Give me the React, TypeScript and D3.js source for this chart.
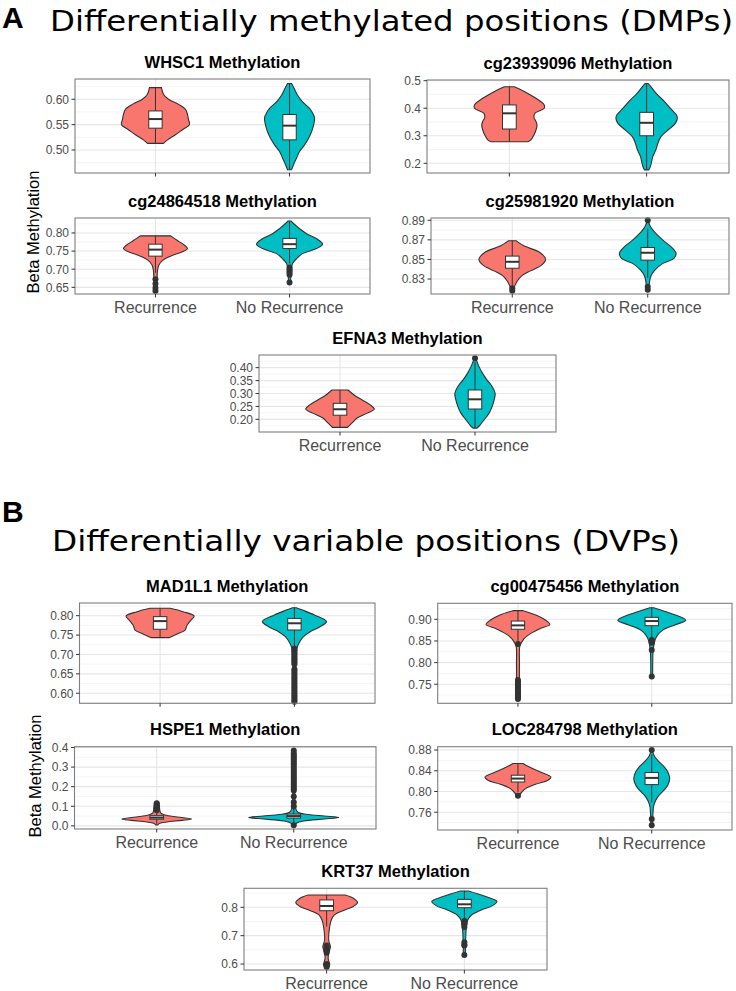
import React from "react";
import * as d3 from "d3";

type Dens = [number, number][];
type Group = { dens: Dens; box: number[]; out: number[] };

const CATEGORIES = ["Recurrence", "No Recurrence"];
const FILLS = ["#F8766D", "#00BFC4"];

// box = [whiskerLow, q1, median, q3, whiskerHigh]; dens = [value, relative half-width]
const WHSC1_REC_DENS: Dens = [[0.513, 8], [0.52, 12], [0.53, 20], [0.54, 27], [0.55, 34], [0.56, 33], [0.57, 32], [0.58, 30], [0.59, 23], [0.6, 13], [0.61, 8], [0.623, 6]];
const WHSC1_REC_BOX = [0.513, 0.543, 0.561, 0.577, 0.623];
const WHSC1_NOREC_DENS: Dens = [[0.461, 2], [0.471, 4], [0.484, 7], [0.497, 10], [0.51, 15], [0.523, 19], [0.536, 22], [0.549, 24], [0.563, 25], [0.569, 24], [0.582, 20], [0.595, 13], [0.608, 8], [0.62, 5], [0.631, 2]];
const WHSC1_NOREC_BOX = [0.461, 0.52, 0.548, 0.57, 0.631];
const WHSC1_TICKS = [0.5, 0.55, 0.6];
const WHSC1_LIMITS = [0.4546, 0.64];

const CG239_REC_DENS: Dens = [[0.278, 18], [0.285, 21], [0.303, 24], [0.321, 26], [0.339, 27], [0.352, 26], [0.367, 24], [0.382, 25], [0.4, 34], [0.412, 34], [0.436, 26], [0.46, 15], [0.478, 5]];
const CG239_REC_BOX = [0.278, 0.3245, 0.3815, 0.412, 0.478];
const CG239_NOREC_DENS: Dens = [[0.176, 2], [0.182, 3], [0.2, 4.5], [0.224, 6], [0.249, 9], [0.273, 11], [0.297, 14], [0.321, 21], [0.345, 28], [0.364, 30], [0.376, 29], [0.4, 23], [0.426, 17], [0.451, 10], [0.474, 5], [0.49, 1.5]];
const CG239_NOREC_BOX = [0.176, 0.3, 0.347, 0.385, 0.49];
const CG239_TICKS = [0.2, 0.3, 0.4, 0.5];
const CG239_LIMITS = [0.1647, 0.5025];

const CG248_REC_DENS: Dens = [[0.638, 1], [0.66, 1.5], [0.68, 1.7], [0.695, 2], [0.711, 3.3], [0.725, 7.5], [0.736, 15], [0.748, 27], [0.757, 32], [0.766, 29], [0.779, 22], [0.792, 15]];
const CG248_REC_BOX = [0.69, 0.736, 0.754, 0.769, 0.792];
const CG248_REC_OUT = [0.672, 0.66, 0.648, 0.64];
const CG248_NOREC_DENS: Dens = [[0.663, 1], [0.69, 1.5], [0.705, 2], [0.716, 3], [0.729, 7], [0.743, 13], [0.757, 27], [0.769, 33], [0.784, 27], [0.798, 17], [0.812, 10], [0.826, 4], [0.833, 1.5]];
const CG248_NOREC_BOX = [0.716, 0.757, 0.769, 0.785, 0.833];
const CG248_NOREC_OUT = [0.705, 0.7, 0.695, 0.69, 0.685, 0.663];
const CG248_TICKS = [0.65, 0.7, 0.75, 0.8];
const CG248_LIMITS = [0.6316, 0.8412];

const CG259_REC_DENS: Dens = [[0.818, 1], [0.823, 2.5], [0.828, 5], [0.833, 9], [0.8383, 18], [0.8442, 29], [0.85, 33], [0.8573, 27], [0.8636, 12], [0.869, 4]];
const CG259_REC_BOX = [0.823, 0.841, 0.8476, 0.8534, 0.869];
const CG259_REC_OUT = [0.8205, 0.818];
const CG259_NOREC_DENS: Dens = [[0.819, 1], [0.8326, 3], [0.839, 7], [0.846, 15], [0.851, 26], [0.8562, 28], [0.863, 23], [0.8697, 15], [0.8765, 8], [0.8815, 4], [0.8849, 2], [0.89, 0.5]];
const CG259_NOREC_BOX = [0.831, 0.8493, 0.8568, 0.8622, 0.8815];
const CG259_NOREC_OUT = [0.89, 0.822, 0.819];
const CG259_TICKS = [0.83, 0.85, 0.87, 0.89];
const CG259_LIMITS = [0.8147, 0.8923];

const EFNA3_REC_DENS: Dens = [[0.169, 7.5], [0.186, 12], [0.205, 17], [0.224, 27], [0.24, 34], [0.256, 30], [0.275, 22], [0.294, 14], [0.3136, 8]];
const EFNA3_REC_BOX = [0.169, 0.216, 0.239, 0.262, 0.3136];
const EFNA3_NOREC_DENS: Dens = [[0.166, 2], [0.178, 5], [0.198, 9], [0.224, 14], [0.249, 17], [0.275, 19], [0.301, 20], [0.327, 17], [0.352, 12], [0.378, 7.5], [0.404, 4], [0.423, 2], [0.436, 0.5]];
const EFNA3_NOREC_BOX = [0.166, 0.24, 0.2775, 0.3136, 0.423];
const EFNA3_NOREC_OUT = [0.436];
const EFNA3_TICKS = [0.2, 0.25, 0.3, 0.35, 0.4];
const EFNA3_LIMITS = [0.151, 0.449];

const MAD1L1_REC_DENS: Dens = [[0.7433, 9], [0.753, 17], [0.763, 25], [0.776, 27], [0.789, 31], [0.799, 34], [0.8103, 23], [0.819, 10]];
const MAD1L1_REC_BOX = [0.7433, 0.765, 0.786, 0.7975, 0.819];
const MAD1L1_NOREC_DENS: Dens = [[0.578, 1], [0.62, 1.2], [0.66, 1.2], [0.7, 1.5], [0.716, 2.5], [0.729, 4.5], [0.746, 9], [0.759, 16], [0.772, 26], [0.785, 32], [0.802, 20], [0.815, 7.5], [0.8206, 2]];
const MAD1L1_NOREC_BOX = [0.72, 0.7631, 0.7804, 0.793, 0.8206];
const MAD1L1_NOREC_OUT = [0.715, 0.711, 0.707, 0.703, 0.699, 0.695, 0.691, 0.687, 0.683, 0.679, 0.675, 0.662, 0.657, 0.652, 0.647, 0.642, 0.637, 0.632, 0.627, 0.622, 0.617, 0.612, 0.607, 0.602, 0.597, 0.592, 0.587, 0.582, 0.578];
const MAD1L1_TICKS = [0.6, 0.65, 0.7, 0.75, 0.8];
const MAD1L1_LIMITS = [0.574, 0.8327];

const CG004_REC_DENS: Dens = [[0.714, 1.5], [0.73, 2], [0.76, 1.5], [0.8, 1.5], [0.836, 1.7], [0.844, 3], [0.855, 6], [0.867, 12.5], [0.879, 22.5], [0.888, 32], [0.8984, 27.5], [0.91, 18], [0.92, 5]];
const CG004_REC_BOX = [0.85, 0.877, 0.886, 0.896, 0.92];
const CG004_REC_OUT = [0.843, 0.76, 0.756, 0.752, 0.748, 0.744, 0.74, 0.736, 0.732, 0.728, 0.724, 0.72, 0.716];
const CG004_NOREC_DENS: Dens = [[0.767, 1], [0.8, 1], [0.83, 1.5], [0.852, 3.3], [0.864, 6], [0.875, 11], [0.887, 23], [0.898, 34], [0.911, 22.5], [0.9215, 9], [0.9268, 2]];
const CG004_NOREC_BOX = [0.857, 0.8853, 0.896, 0.9046, 0.9268];
const CG004_NOREC_OUT = [0.852, 0.849, 0.846, 0.829, 0.768];
const CG004_TICKS = [0.75, 0.8, 0.85, 0.9];
const CG004_LIMITS = [0.706, 0.937];

const HSPE1_REC_DENS: Dens = [[0.005, 1], [0.013, 3], [0.02, 10], [0.028, 25], [0.035, 34], [0.045, 20], [0.055, 8], [0.065, 4], [0.08, 3], [0.1, 2.5], [0.116, 1]];
const HSPE1_REC_BOX = [0.01, 0.034, 0.042, 0.052, 0.078];
const HSPE1_REC_OUT = [0.08, 0.085, 0.09, 0.095, 0.1, 0.105, 0.11, 0.115];
const HSPE1_NOREC_DENS: Dens = [[0.003, 1], [0.015, 3], [0.025, 10], [0.035, 30], [0.043, 44], [0.05, 30], [0.058, 14], [0.065, 6], [0.075, 3], [0.1, 1.5], [0.2, 1], [0.385, 0.5]];
const HSPE1_NOREC_BOX = [0.012, 0.04, 0.05, 0.06, 0.088];
const HSPE1_NOREC_OUT = [0.003, 0.1, 0.12, 0.15, 0.18, 0.19, 0.2, 0.21, 0.22, 0.23, 0.24, 0.25, 0.26, 0.27, 0.28, 0.29, 0.3, 0.31, 0.32, 0.33, 0.34, 0.35, 0.36, 0.37, 0.385];
const HSPE1_TICKS = [0, 0.1, 0.2, 0.3, 0.4];
const HSPE1_LIMITS = [-0.016, 0.404];

const LOC_REC_DENS: Dens = [[0.792, 1], [0.799, 4], [0.806, 8], [0.814, 17.5], [0.8216, 30], [0.828, 33], [0.838, 22], [0.8475, 11], [0.854, 5]];
const LOC_REC_BOX = [0.799, 0.8183, 0.8249, 0.8314, 0.854];
const LOC_REC_OUT = [0.792];
const LOC_NOREC_DENS: Dens = [[0.733, 1], [0.75, 1], [0.765, 1.5], [0.77, 1.7], [0.783, 4], [0.792, 7], [0.802, 12], [0.812, 16], [0.8249, 18], [0.838, 16], [0.8475, 12.5], [0.857, 7.5], [0.867, 3], [0.8735, 1.5], [0.88, 0.5]];
const LOC_NOREC_BOX = [0.779, 0.8133, 0.8262, 0.8366, 0.8716];
const LOC_NOREC_OUT = [0.88, 0.747, 0.735];
const LOC_TICKS = [0.76, 0.8, 0.84, 0.88];
const LOC_LIMITS = [0.7257, 0.8864];

const KRT37_REC_DENS: Dens = [[0.59, 2], [0.597, 3], [0.62, 1.5], [0.638, 2], [0.661, 3.7], [0.685, 2], [0.732, 3], [0.755, 4.5], [0.773, 7.5], [0.79, 17], [0.803, 26], [0.817, 30], [0.832, 26], [0.8434, 18]];
const KRT37_REC_BOX = [0.732, 0.788, 0.8046, 0.826, 0.8434];
const KRT37_REC_OUT = [0.665, 0.66, 0.655, 0.65, 0.645, 0.64, 0.6, 0.595, 0.59];
const KRT37_NOREC_DENS: Dens = [[0.628, 1], [0.68, 1.2], [0.732, 2], [0.755, 3.3], [0.773, 7], [0.79, 16], [0.806, 27.5], [0.821, 31.7], [0.8388, 20], [0.8575, 4]];
const KRT37_NOREC_BOX = [0.755, 0.7986, 0.8106, 0.828, 0.8575];
const KRT37_NOREC_OUT = [0.752, 0.745, 0.74, 0.731, 0.677, 0.668, 0.665, 0.632];
const KRT37_TICKS = [0.6, 0.7, 0.8];
const KRT37_LIMITS = [0.579, 0.867];

type Panel = {
  title: string;
  groups: Group[];
  ticks: number[];
  limits: number[];
  dec: number;
  box: [number, number, number, number]; // x0, x1, y0, y1 (layout)
  xLabels: boolean;
};

const PANELS: Panel[] = [
  { title: "WHSC1 Methylation", groups: [{ dens: WHSC1_REC_DENS, box: WHSC1_REC_BOX, out: [] }, { dens: WHSC1_NOREC_DENS, box: WHSC1_NOREC_BOX, out: [] }], ticks: WHSC1_TICKS, limits: WHSC1_LIMITS, dec: 2, box: [75, 370, 79, 173], xLabels: false },
  { title: "cg23939096 Methylation", groups: [{ dens: CG239_REC_DENS, box: CG239_REC_BOX, out: [] }, { dens: CG239_NOREC_DENS, box: CG239_NOREC_BOX, out: [] }], ticks: CG239_TICKS, limits: CG239_LIMITS, dec: 1, box: [427, 729, 80, 173], xLabels: false },
  { title: "cg24864518 Methylation", groups: [{ dens: CG248_REC_DENS, box: CG248_REC_BOX, out: CG248_REC_OUT }, { dens: CG248_NOREC_DENS, box: CG248_NOREC_BOX, out: CG248_NOREC_OUT }], ticks: CG248_TICKS, limits: CG248_LIMITS, dec: 2, box: [75, 370, 218, 294], xLabels: true },
  { title: "cg25981920 Methylation", groups: [{ dens: CG259_REC_DENS, box: CG259_REC_BOX, out: CG259_REC_OUT }, { dens: CG259_NOREC_DENS, box: CG259_NOREC_BOX, out: CG259_NOREC_OUT }], ticks: CG259_TICKS, limits: CG259_LIMITS, dec: 2, box: [431, 729, 218, 294], xLabels: true },
  { title: "EFNA3 Methylation", groups: [{ dens: EFNA3_REC_DENS, box: EFNA3_REC_BOX, out: [] }, { dens: EFNA3_NOREC_DENS, box: EFNA3_NOREC_BOX, out: EFNA3_NOREC_OUT }], ticks: EFNA3_TICKS, limits: EFNA3_LIMITS, dec: 2, box: [259, 556, 355, 432], xLabels: true },
  { title: "MAD1L1 Methylation", groups: [{ dens: MAD1L1_REC_DENS, box: MAD1L1_REC_BOX, out: [] }, { dens: MAD1L1_NOREC_DENS, box: MAD1L1_NOREC_BOX, out: MAD1L1_NOREC_OUT }], ticks: MAD1L1_TICKS, limits: MAD1L1_LIMITS, dec: 2, box: [79.5, 375, 603, 703.3], xLabels: false },
  { title: "cg00475456 Methylation", groups: [{ dens: CG004_REC_DENS, box: CG004_REC_BOX, out: CG004_REC_OUT }, { dens: CG004_NOREC_DENS, box: CG004_NOREC_BOX, out: CG004_NOREC_OUT }], ticks: CG004_TICKS, limits: CG004_LIMITS, dec: 2, box: [437.7, 732, 603.3, 703.3], xLabels: false },
  { title: "HSPE1 Methylation", groups: [{ dens: HSPE1_REC_DENS, box: HSPE1_REC_BOX, out: HSPE1_REC_OUT }, { dens: HSPE1_NOREC_DENS, box: HSPE1_NOREC_BOX, out: HSPE1_NOREC_OUT }], ticks: HSPE1_TICKS, limits: HSPE1_LIMITS, dec: 1, box: [74.5, 376, 746.7, 829], xLabels: true },
  { title: "LOC284798 Methylation", groups: [{ dens: LOC_REC_DENS, box: LOC_REC_BOX, out: LOC_REC_OUT }, { dens: LOC_NOREC_DENS, box: LOC_NOREC_BOX, out: LOC_NOREC_OUT }], ticks: LOC_TICKS, limits: LOC_LIMITS, dec: 2, box: [437.7, 732, 746.7, 830], xLabels: true },
  { title: "KRT37 Methylation", groups: [{ dens: KRT37_REC_DENS, box: KRT37_REC_BOX, out: KRT37_REC_OUT }, { dens: KRT37_NOREC_DENS, box: KRT37_NOREC_BOX, out: KRT37_NOREC_OUT }], ticks: KRT37_TICKS, limits: KRT37_LIMITS, dec: 1, box: [244, 547, 888.3, 970], xLabels: true },
];

const SANS = "'Liberation Sans', Arial, sans-serif";

function ViolinPanel({ p }: { p: Panel }) {
  const [x0, x1, y0, y1] = p.box;
  const x = d3.scalePoint<string>().domain(CATEGORIES).range([x0, x1]).padding(0.6);
  const step = x.step();
  const k = step / 134;
  const y = d3.scaleLinear().domain(p.limits).range([y1, y0]);
  const tickStep = p.ticks[1] - p.ticks[0];
  const minors: number[] = [];
  for (let v = p.ticks[0] - tickStep / 2; v <= p.limits[1]; v += tickStep) {
    if (v >= p.limits[0]) minors.push(v);
  }
  const fmt = d3.format(`.${p.dec}f`);
  const boxHalf = step * 0.05;
  return (
    <g>
      <rect x={x0} y={y0} width={x1 - x0} height={y1 - y0} fill="#fff" />
      {minors.map((v, i) => (
        <line key={"mn" + i} x1={x0} x2={x1} y1={y(v)} y2={y(v)} stroke="#F2F2F2" strokeWidth={0.8} />
      ))}
      {p.ticks.map((v, i) => (
        <line key={"mj" + i} x1={x0} x2={x1} y1={y(v)} y2={y(v)} stroke="#E6E6E6" strokeWidth={1.1} />
      ))}
      {CATEGORIES.map((c) => (
        <line key={"vg" + c} x1={x(c)} x2={x(c)} y1={y0} y2={y1} stroke="#E6E6E6" strokeWidth={1.1} />
      ))}
      {p.groups.map((g, gi) => {
        const cx = x(CATEGORIES[gi]) as number;
        const area = d3
          .area<[number, number]>()
          .curve(d3.curveCatmullRom.alpha(0.5))
          .y((d) => y(d[0]))
          .x0((d) => cx - d[1] * k)
          .x1((d) => cx + d[1] * k);
        const [wlo, q1, med, q3, whi] = g.box;
        return (
          <g key={"g" + gi}>
            <path d={area(g.dens) || ""} fill={FILLS[gi]} stroke="#333" strokeWidth={1.1} />
            <line x1={cx} x2={cx} y1={y(wlo)} y2={y(q1)} stroke="#333" strokeWidth={1} />
            <line x1={cx} x2={cx} y1={y(q3)} y2={y(whi)} stroke="#333" strokeWidth={1} />
            <rect x={cx - boxHalf} y={y(q3)} width={boxHalf * 2} height={Math.max(0.5, y(q1) - y(q3))} fill="#fff" stroke="#333" strokeWidth={1} />
            <line x1={cx - boxHalf} x2={cx + boxHalf} y1={y(med)} y2={y(med)} stroke="#333" strokeWidth={2} />
            {g.out.map((v, oi) => (
              <circle key={"o" + oi} cx={cx} cy={y(v)} r={3} fill="#333" />
            ))}
          </g>
        );
      })}
      <rect x={x0} y={y0} width={x1 - x0} height={y1 - y0} fill="none" stroke="#7F7F7F" strokeWidth={1.1} />
      {p.ticks.map((v, i) => (
        <g key={"yt" + i}>
          <line x1={x0 - 3.5} x2={x0} y1={y(v)} y2={y(v)} stroke="#333" strokeWidth={1} />
          <text x={x0 - 6} y={y(v)} dy="0.36em" textAnchor="end" fontFamily={SANS} fontSize={12} fill="#4D4D4D">
            {fmt(v)}
          </text>
        </g>
      ))}
      {CATEGORIES.map((c) => (
        <line key={"xt" + c} x1={x(c)} x2={x(c)} y1={y1} y2={y1 + 3.5} stroke="#333" strokeWidth={1} />
      ))}
      {p.xLabels &&
        CATEGORIES.map((c) => (
          <text key={"xl" + c} x={x(c)} y={y1 + 18.5} textAnchor="middle" fontFamily={SANS} fontSize={16} fill="#4D4D4D">
            {c}
          </text>
        ))}
      <text x={(x0 + x1) / 2} y={y0 - 11.5} textAnchor="middle" fontFamily={SANS} fontSize={16.5} fontWeight="bold" fill="#000">
        {p.title}
      </text>
    </g>
  );
}

export default function App() {
  return (
    <svg width={736} height={991} style={{ position: "absolute", left: 0, top: 0, background: "#fff" }}>
      <text x={2} y={28} fontFamily={SANS} fontWeight="bold" fontSize={30} fill="#000">A</text>
      <text x={50} y={31} fontFamily="'DejaVu Sans', sans-serif" fontSize={29} fill="#000" textLength={683} lengthAdjust="spacingAndGlyphs">
        Differentially methylated positions (DMPs)
      </text>
      <text x={2} y={522} fontFamily={SANS} fontWeight="bold" fontSize={30} fill="#000">B</text>
      <text x={52} y={551} fontFamily="'DejaVu Sans', sans-serif" fontSize={29} fill="#000" textLength={628} lengthAdjust="spacingAndGlyphs">
        Differentially variable positions (DVPs)
      </text>
      <text transform="translate(39,232) rotate(-90)" textAnchor="middle" fontFamily={SANS} fontSize={16.5} fill="#000">
        Beta Methylation
      </text>
      <text transform="translate(41,776) rotate(-90)" textAnchor="middle" fontFamily={SANS} fontSize={16.5} fill="#000">
        Beta Methylation
      </text>
      {PANELS.map((p, i) => (
        <ViolinPanel key={i} p={p} />
      ))}
    </svg>
  );
}
